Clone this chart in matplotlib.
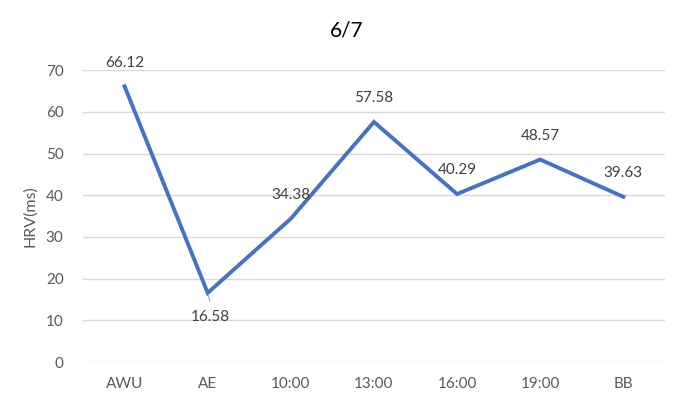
import matplotlib.pyplot as plt
import matplotlib as mpl

mpl.rcParams['font.family'] = ['Lato', 'DejaVu Sans']

categories = ['AWU', 'AE', '10:00', '13:00', '16:00', '19:00', 'BB']
hrv = [66.12, 16.58, 34.38, 57.58, 40.29, 48.57, 39.63]
label_below = [False, True, False, False, False, False, False]

fig = plt.figure(figsize=(6.94, 4.2), dpi=100)
ax = fig.add_axes([0.1196, 0.138, 0.8384, 0.695])

x = list(range(len(categories)))
ax.plot(x, hrv, color='#4472C4', linewidth=2.8, solid_joinstyle='miter', zorder=3)

for xi, v, below in zip(x, hrv, label_below):
    if below:
        # small leader line from the point down to its label
        ax.annotate('', xy=(xi, v), xytext=(2, -8), textcoords='offset points',
                    arrowprops=dict(arrowstyle='-', color='#A6A6A6', lw=0.8), zorder=2)
        ax.annotate(f'{v:.2f}', (xi, v), xytext=(2, -17), textcoords='offset points',
                    ha='center', va='center', fontsize=11, color='#404040')
    else:
        ax.annotate(f'{v:.2f}', (xi, v), xytext=(0, 17), textcoords='offset points',
                    ha='center', va='center', fontsize=11, color='#404040')

ax.set_xlim(-0.5, len(categories) - 0.5)
ax.set_ylim(0, 70)
ax.set_yticks(range(0, 71, 10))
ax.set_xticks(x)
ax.set_xticklabels(categories)
ax.tick_params(axis='both', length=0, labelsize=11, labelcolor='#595959')
ax.tick_params(axis='x', pad=11)
ax.tick_params(axis='y', pad=14)
ax.grid(axis='y', color='#D9D9D9', linewidth=1)
ax.set_axisbelow(True)
for s in ax.spines.values():
    s.set_visible(False)

ax.set_ylabel('HRV(ms)', fontsize=11.5, color='#595959', labelpad=6)
fig.text(0.5, 0.927, '6/7', ha='center', va='center', fontsize=15, color='#000000')

plt.savefig('out.png', dpi=100)
